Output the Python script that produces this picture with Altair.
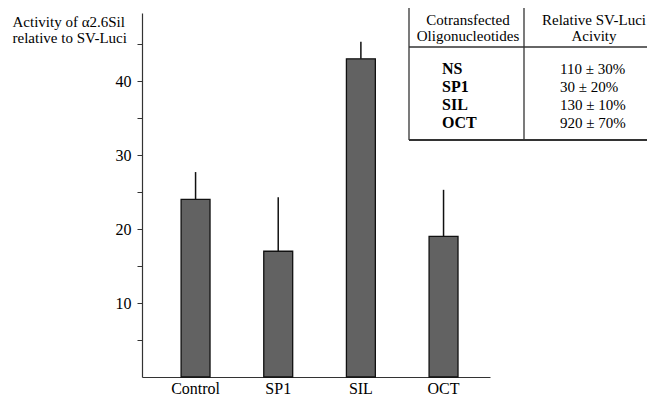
import altair as alt
import pandas as pd

# ---- data ----
groups = ["Control", "SP1", "SIL", "OCT"]
activity = [24.0, 17.0, 43.0, 19.0]
err_upper = [27.7, 24.3, 45.3, 25.3]

table_head_left = ["Cotransfected", "Oligonucleotides"]
table_head_right = ["Relative SV-Luci", "Acivity"]
table_oligos = ["NS", "SP1", "SIL", "OCT"]
table_values = ["110 ± 30%", "30 ± 20%", "130 ± 10%", "920 ± 70%"]

y_ticks = [5, 10, 15, 20, 25, 30, 35, 40, 45]
y_title = ["Activity of α2.6Sil", "relative to SV-Luci"]

FONT = "Liberation Serif"

df = pd.DataFrame({"group": groups, "activity": activity, "upper": err_upper})

W, H = 348, 364

xscale = alt.Scale(domain=groups, paddingInner=0.65, paddingOuter=0.43, align=0.55)
yscale = alt.Scale(domain=[0, 49.2], nice=False, zero=True)

x_axis = alt.Axis(title=None, labelAngle=0, ticks=False, labelPadding=3,
                  labelFont=FONT, labelFontSize=16, labelColor="#000",
                  domainColor="#333", domainWidth=1.2)
y_axis = alt.Axis(values=y_ticks,
                  labelExpr="datum.value % 10 === 0 ? datum.label : ''",
                  grid=False, tickSize=5, tickColor="#333", domainColor="#333",
                  domainWidth=1.2, labelPadding=6, labelFont=FONT,
                  labelFontSize=16, labelColor="#000",
                  title=y_title, titleAngle=0, titleAlign="left",
                  titleBaseline="alphabetic", titleX=-130, titleY=13,
                  titleFont=FONT, titleFontSize=15, titleFontWeight="normal",
                  titleLineHeight=16, titleColor="#000")

x_enc = alt.X("group:N", scale=xscale, sort=groups, axis=x_axis)
y_enc = alt.Y("activity:Q", scale=yscale, axis=y_axis)

base = alt.Chart(df)

bars = base.mark_bar(fill="#626262", stroke="#111111", strokeWidth=1.3).encode(
    x=x_enc, y=y_enc)

errs = base.mark_rule(color="#111111", strokeWidth=1.5).encode(
    x=x_enc, y=y_enc, y2="upper:Q")

one = alt.Chart(pd.DataFrame({"k": [0]}))

def hline(y, x1, x2, w=1.3):
    return one.mark_rule(color="#333", strokeWidth=w).encode(
        x=alt.value(x1), x2=alt.value(x2), y=alt.value(y))

def vline(x, y1, y2, w=1.3):
    return one.mark_rule(color="#333", strokeWidth=w).encode(
        x=alt.value(x), y=alt.value(y1), y2=alt.value(y2))

# table frame (pixel positions relative to plot origin)
TL, TR, TD = 267, 506, 382
TT, TH, TB = -7, 34, 127
frame = [
    hline(TT, TL, TR), hline(TH, TL, TR), hline(TB, TL, TR, 1.8),
    vline(TL, TT, TB), vline(TD, TT, TB),
]

def text_block(lines, x, y, align, size, lh, weight="normal"):
    return one.mark_text(text=lines, align=align, baseline="alphabetic",
                         font=FONT, fontSize=size, lineHeight=lh, fontWeight=weight,
                         color="#000").encode(x=alt.value(x), y=alt.value(y))

texts = [
    text_block(table_head_left, 326, 12, "center", 15, 16),
    text_block(table_head_right, 452, 12, "center", 15, 16),
    text_block(table_oligos, 300, 61, "left", 16, 17.9, "bold"),
    text_block(table_values, 418, 61, "left", 15, 17.9),
]

chart = alt.layer(bars, errs, *frame, *texts).properties(
    width=W, height=H,
    autosize=alt.AutoSizeParams(type="none"),
    padding={"left": 134, "top": 5, "right": 157, "bottom": 19},
).configure(background="white").configure_view(stroke="transparent", strokeWidth=0)

chart.save("out.html", embed_options={"renderer": "svg", "actions": False})
